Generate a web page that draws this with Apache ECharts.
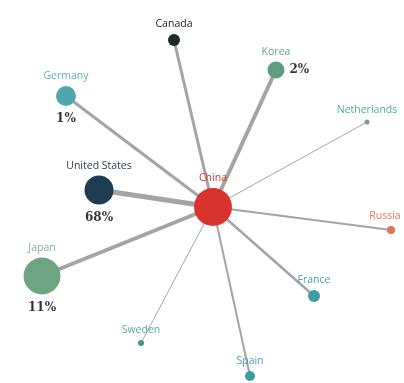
<!DOCTYPE html>
<html>
<head>
<meta charset="utf-8">
<script src="https://cdn.jsdelivr.net/npm/echarts@6/dist/echarts.min.js"></script>
<style>
  html, body { margin: 0; padding: 0; background: #fff; }
  #main { width: 404px; height: 383px; }
</style>
</head>
<body>
<div id="main"></div>
<script>
// node data (positions on the hidden axes, node sizes, link weights)
var countries = ['China', 'Canada', 'Germany', 'Korea', 'Netherlands', 'United States', 'Japan', 'Sweden', 'Spain', 'France', 'Russia'];
var posX = [213, 174, 66, 276, 367, 99, 42, 141, 250, 314, 391];
var posY = [207, 40, 96, 70, 122, 190, 276, 343, 376, 296, 230];
var nodeSize = [38, 12, 20, 17, 5, 29, 37, 6, 10, 12, 8];
var nodeColors = ['#d8332d', '#1d2b29', '#4fa8ae', '#5d9e80', '#6f9fa8', '#1f3d52', '#6da583', '#4f8f8a', '#3f9ca3', '#3f9ca3', '#df7457'];
var labelColors = ['#d8332d', '#222', '#5ab1b6', '#6aa88a', '#5aa9a0', '#2c3e50', '#7fb08f', '#5aa9a0', '#4aa0a8', '#4aa0a8', '#e0765a'];
var linkWidth = [0, 3, 3, 4, 1, 5, 4, 1, 2, 2.5, 2];

var shares = ['', '', '1%', '2%', '', '68%', '11%', '', '', '', ''];

var chart = echarts.init(document.getElementById('main'));

var nodes = countries.map(function (c, i) {
  return {
    name: c,
    value: [posX[i], posY[i]],
    symbolSize: nodeSize[i],
    itemStyle: { color: nodeColors[i] },
    // Russia sits on the right edge, nudge its label in a bit
    label: { color: labelColors[i], offset: c === 'Russia' ? [-6, 0] : [0, 0] }
  };
});

var links = [];
for (var i = 1; i < countries.length; i++) {
  links.push({ source: 'China', target: countries[i], lineStyle: { width: linkWidth[i] } });
}

// percent labels: below the node, Korea's to the right
var shareData = [];
shares.forEach(function (s, i) {
  if (!s) return;
  var right = countries[i] === 'Korea';
  shareData.push({
    value: [posX[i], posY[i], s],
    label: {
      position: right ? 'right' : 'bottom',
      distance: right ? nodeSize[i] / 2 + 5 : nodeSize[i] / 2 + 7
    }
  });
});

var option = {
  backgroundColor: '#fff',
  animation: false,
  grid: { left: 0, right: 0, top: 0, bottom: 0 },
  xAxis: { type: 'value', min: 0, max: 404, show: false },
  yAxis: { type: 'value', min: 0, max: 383, inverse: true, show: false },
  series: [
    {
      type: 'graph',
      coordinateSystem: 'cartesian2d',
      data: nodes,
      links: links,
      symbol: 'circle',
      lineStyle: { color: '#9a9a9a', opacity: 0.9, curveness: 0 },
      label: {
        show: true,
        position: 'top',
        distance: 4,
        fontFamily: 'Open Sans',
        fontSize: 10.5
      },
      z: 2
    },
    {
      type: 'scatter',
      data: shareData,
      symbolSize: 0,
      label: {
        show: true,
        formatter: function (p) { return p.value[2]; },
        fontFamily: 'DejaVu Serif',
        fontWeight: 'bold',
        fontSize: 12,
        color: '#000'
      },
      z: 3
    }
  ]
};

chart.setOption(option);
</script>
</body>
</html>
